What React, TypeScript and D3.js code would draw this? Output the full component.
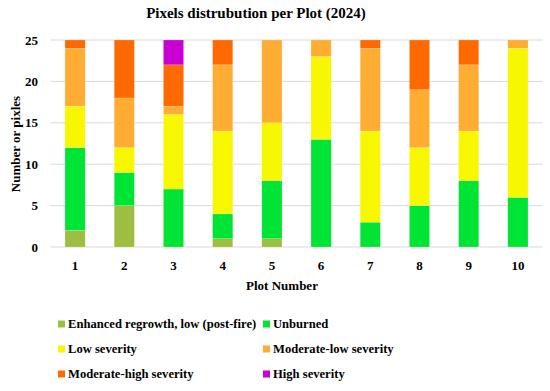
import React from "react";
import * as d3 from "d3";

const plots = ["1", "2", "3", "4", "5", "6", "7", "8", "9", "10"];
const seriesNames = [
  "Enhanced regrowth, low (post-fire)",
  "Unburned",
  "Low severity",
  "Moderate-low severity",
  "Moderate-high severity",
  "High severity",
];
const regrowth = [2, 5, 0, 1, 1, 0, 0, 0, 0, 0];
const unburned = [10, 4, 7, 3, 7, 13, 3, 5, 8, 6];
const lowSev = [5, 3, 9, 10, 7, 10, 11, 7, 6, 18];
const modLow = [7, 6, 1, 8, 10, 2, 10, 7, 8, 1];
const modHigh = [1, 7, 5, 3, 0, 0, 1, 6, 3, 0];
const highSev = [0, 0, 3, 0, 0, 0, 0, 0, 0, 0];
const colors = ["#9DBF41", "#00E436", "#F7F700", "#FFAC33", "#FF6A00", "#C800D2"];
const yTicks = [0, 5, 10, 15, 20, 25];

export default function App() {
  const W = 550, H = 391;
  const left = 50.5, right = 542.5, top = 40, bottom = 247;
  const keys = ["r", "u", "l", "ml", "mh", "h"];
  const table = plots.map((p, i) => ({
    plot: p, r: regrowth[i], u: unburned[i], l: lowSev[i], ml: modLow[i], mh: modHigh[i], h: highSev[i],
  }));
  const stacked = d3.stack<any>().keys(keys)(table);
  const x = d3.scaleBand().domain(plots).range([left, right]).paddingInner(0.59).paddingOuter(0.295);
  const y = d3.scaleLinear().domain([0, 25]).range([bottom, top]);
  const font = "'Liberation Serif', 'Times New Roman', serif";
  return (
    <svg width={W} height={H} style={{ position: "absolute", left: 0, top: 0, background: "#fff" }} fontFamily={font}>
      <text x={256} y={13} dy="0.35em" textAnchor="middle" fontSize={15} fontWeight="bold" fill="#000">
        Pixels distrubution per Plot (2024)
      </text>
      {yTicks.map((t) => (
        <g key={t}>
          <line x1={left} x2={right} y1={y(t)} y2={y(t)} stroke="#d9d9d9" strokeWidth={1} />
          <text x={38} y={y(t)} dy="0.35em" textAnchor="end" fontSize={13} fontWeight="bold" fill="#000">{t}</text>
        </g>
      ))}
      {stacked.map((s, si) => (
        <g key={si} fill={colors[si]}>
          {s.map((d, i) =>
            d[1] - d[0] > 0 ? (
              <rect key={i} x={x(plots[i])} width={x.bandwidth()} y={y(d[1])} height={y(d[0]) - y(d[1])}
                stroke="#ffffff" strokeOpacity={0.35} strokeWidth={0.5} />
            ) : null
          )}
        </g>
      ))}
      {plots.map((p) => (
        <text key={p} x={(x(p) as number) + x.bandwidth() / 2} y={265} dy="0.35em" textAnchor="middle" fontSize={13} fontWeight="bold" fill="#000">{p}</text>
      ))}
      <text x={282} y={285} dy="0.35em" textAnchor="middle" fontSize={13} fontWeight="bold" fill="#000">Plot Number</text>
      <text transform={`translate(15,144) rotate(-90)`} dy="0.35em" textAnchor="middle" fontSize={13} fontWeight="bold" fill="#000">Number or pixles</text>
      {seriesNames.map((n, i) => {
        const col = i % 2, row = Math.floor(i / 2);
        const lx = col === 0 ? 58 : 263;
        const ly = 324 + row * 25;
        return (
          <g key={n}>
            <rect x={lx} y={ly - 3.5} width={7} height={7} fill={colors[i]} />
            <text x={lx + 10} y={ly} dy="0.35em" fontSize={12.6} fontWeight="bold" fill="#000">{n}</text>
          </g>
        );
      })}
    </svg>
  );
}
